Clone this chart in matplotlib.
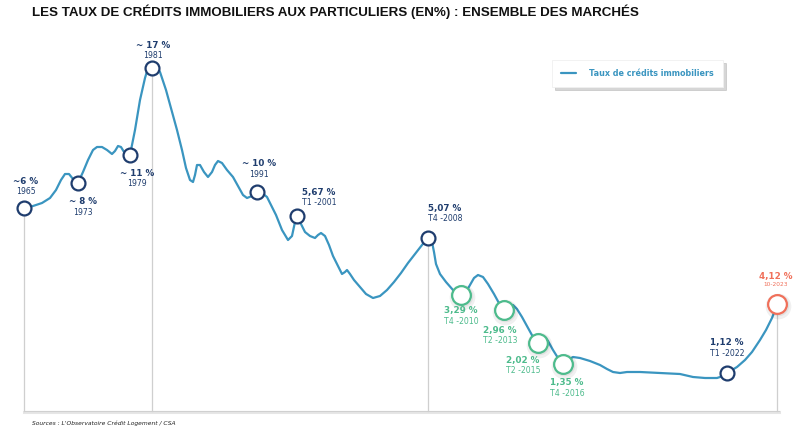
import matplotlib
matplotlib.use("Agg")
import matplotlib.pyplot as plt

# Courbe stylisée (position horizontale, hauteur à l'écran)
courbe_x = [24, 33, 42, 50, 56, 61, 65, 69, 73, 78,
            83, 88, 93, 97, 102, 107, 112, 115, 118, 121, 124, 130,
            135, 140, 145, 148, 152, 156, 160, 166, 172, 177, 182, 186, 190, 193,
            195, 197, 200, 204, 208, 212, 215, 218, 222, 227, 233, 238, 243, 247, 252, 257,
            262, 267, 270, 276, 282, 288, 292, 295, 297,
            301, 305, 310, 315, 318, 321, 325, 329, 333, 338, 342, 345, 347, 350, 354,
            360, 366, 373, 380, 387, 394, 401, 408, 415, 422, 428,
            432, 434, 436, 440, 446, 453, 461,
            466, 470, 474, 478, 483, 488, 494, 500, 504,
            509, 513, 517, 522, 528, 533, 538,
            542, 545, 548, 553, 558, 563,
            568, 573, 580, 590, 600, 607, 613, 620, 627, 640, 660, 680, 693, 705, 717, 723, 727,
            732, 737, 745, 752, 760, 766, 772, 777]
courbe_y = [208, 206, 203, 198, 190, 180, 174, 174, 179, 183,
            172, 160, 150, 147, 147, 150, 154, 151, 146, 147, 152, 155,
            130, 100, 78, 68, 68, 66, 72, 90, 112, 130, 150, 168, 180, 182,
            175, 165, 165, 172, 177, 172, 165, 161, 163, 170, 177, 186, 195, 198, 196, 192,
            193, 197, 203, 215, 230, 240, 236, 222, 216,
            224, 232, 236, 238, 235, 233, 236, 245, 256, 266, 274, 272, 270, 274, 280,
            287, 294, 298, 296, 290, 282, 273, 263, 254, 245, 238,
            242, 252, 264, 274, 282, 290, 295,
            292, 285, 278, 275, 277, 284, 294, 305, 310,
            306, 305, 309, 317, 328, 337, 343,
            338, 337, 341, 350, 358, 364,
            360, 357, 358, 361, 365, 369, 372, 373, 372, 372, 373, 374, 377, 378, 378, 376, 373,
            370, 367, 360, 352, 340, 330, 318, 305]

# Points remarquables
points_x = [24, 78, 130, 152, 257, 297, 428, 461, 504, 538, 563, 727, 777]
points_y = [208, 183, 155, 68, 192, 216, 238, 295, 310, 343, 364, 373, 304]
points_taux = ["~6 %", "~ 8 %", "~ 11 %", "~ 17 %", "~ 10 %", "5,67 %", "5,07 %",
               "3,29 %", "2,96 %", "2,02 %", "1,35 %", "1,12 %", "4,12 %"]
points_date = ["1965", "1973", "1979", "1981", "1991", "T1 -2001", "T4 -2008",
               "T4 -2010", "T2 -2013", "T2 -2015", "T4 -2016", "T1 -2022", "10-2023"]
points_groupe = ["haut", "haut", "haut", "haut", "haut", "haut", "haut",
                 "bas", "bas", "bas", "bas", "haut", "actuel"]
# décalage des étiquettes (en pixels)
decalages = [(2, -27), (5, 19), (7, 18), (1, -23), (2, -28), (22, -24), (17, -30),
             (0, 16), (-4, 20), (-15, 17), (4, 19), (0, -30), (-1, -28)]
lignes_verticales = [0, 3, 6, 12]

BLEU = "#3a95c0"
MARINE = "#1f3d6e"
VERT = "#4dbb8c"
ROUGE = "#f0705a"
couleurs = {"haut": MARINE, "bas": VERT, "actuel": ROUGE}

fig = plt.figure(figsize=(8, 4.32), dpi=100)
ax = fig.add_axes([0, 0, 1, 1])
ax.set_xlim(0, 800)
ax.set_ylim(432, 0)
ax.axis("off")

# axe de base et repères verticaux
ax.plot([24, 779], [411.5, 411.5], color="#e6e6e6", lw=2.2, zorder=1)
ax.plot([24, 779], [410.5, 410.5], color="#d0d0d0", lw=0.8, zorder=1)
for i in lignes_verticales:
    ax.plot([points_x[i], points_x[i]], [points_y[i], 411], color="#cfcfcf", lw=0.9, zorder=1)

ax.plot(courbe_x, courbe_y, color=BLEU, lw=1.6, solid_capstyle="round",
        solid_joinstyle="round", zorder=2, label="Taux de crédits immobiliers")

for i in range(len(points_x)):
    g = points_groupe[i]
    c = couleurs[g]
    ms = 10 if g == "haut" else 13.5
    if g != "haut":
        ax.plot(points_x[i] + 1, points_y[i] + 1.5, "o", ms=ms + 5, color="#000000",
                alpha=0.06, mec="none", zorder=3)
        ax.plot(points_x[i] + 0.5, points_y[i] + 1, "o", ms=ms + 2, color="#000000",
                alpha=0.06, mec="none", zorder=3)
    ax.plot(points_x[i], points_y[i], "o", ms=ms, mfc="white", mec=c, mew=1.6, zorder=4)
    dx, dy = decalages[i]
    tx, ty = points_x[i] + dx, points_y[i] + dy
    ax.text(tx, ty, points_taux[i], color=c, fontsize=6.3, fontweight="bold",
            ha="center", va="center", family="DejaVu Sans")
    if g == "actuel":
        ax.text(tx, ty + 9, points_date[i], color=c, fontsize=4.2,
                ha="center", va="center", family="DejaVu Sans")
    else:
        ax.text(tx, ty + 10.5, points_date[i], color=c, fontsize=5.6,
                ha="center", va="center", family="DejaVu Sans")

leg = ax.legend(loc="center", bbox_to_anchor=(637.5 / 800, 1 - 73.5 / 432),
                frameon=True, fancybox=False, shadow={"color": "#999999", "alpha": 0.4},
                prop={"family": "DejaVu Sans", "weight": "bold", "size": 5.8},
                labelcolor=BLEU, handlelength=1.9, handletextpad=1.6,
                borderpad=1.15, borderaxespad=0)
leg.get_frame().set_edgecolor("#f0f0f0")
leg.get_frame().set_linewidth(0.6)

fig.text(32 / 800, 1 - 12 / 432,
         "LES TAUX DE CRÉDITS IMMOBILIERS AUX PARTICULIERS (EN%) : ENSEMBLE DES MARCHÉS",
         family="Liberation Sans", fontweight="bold", fontsize=9.6, va="center", ha="left",
         color="#111111")
fig.text(32 / 800, 1 - 423 / 432, "Sources : L'Observatoire Crédit Logement / CSA",
         family="DejaVu Sans", style="italic", fontsize=4.3, va="center", ha="left",
         color="#222222")

fig.savefig("out.png", dpi=100)
